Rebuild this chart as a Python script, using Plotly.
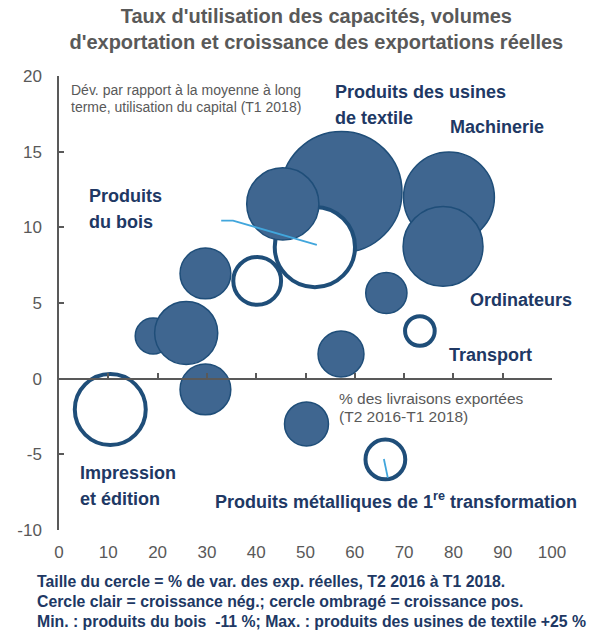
import plotly.graph_objects as go

# Part des livraisons exportées (%), écart d'utilisation des capacités (pts),
# croissance des exportations réelles (%, T2 2016 à T1 2018)
part_exportee = [57.3, 79.1, 77.9, 51.9, 45.4, 29.7, 40.2, 66.4,
                 73.2, 57.2, 19.1, 25.8, 29.7, 10.4, 50.2, 66.2]
ecart_utilisation = [12.34, 11.98, 8.74, 8.70, 11.55, 6.95, 6.46, 5.66,
                     3.15, 1.63, 2.82, 3.02, -0.71, -2.04, -2.99, -5.34]
croissance = [25, 14.1, 10.9, -11, 8.9, 4.4, -3.9, 2.9,
              -1.5, 3.6, 2.2, 6.8, 4.4, -8.6, 3.3, -2.7]

# Traits de rappel
rappel_bois_x = [32.9, 35.3, 52.3]
rappel_bois_y = [10.44, 10.44, 8.84]
rappel_metal_x = [65.9, 66.7]
rappel_metal_y = [-5.31, -6.56]

x_ticks = list(range(0, 101, 10))
y_ticks = list(range(-10, 21, 5))
y_ticktext = [str(v) for v in y_ticks]

BLEU = "#1f4e79"
OMBRE = "#3f6690"
MARINE = "#203864"
GRIS = "#595959"
CIEL = "#41a6dc"
FONT = "Liberation Sans, Arial, sans-serif"

D_MAX = 121  # diamètre (px) du cercle le plus grand
sizeref = 2 * max(abs(c) for c in croissance) / D_MAX ** 2

fig = go.Figure()

fig.add_trace(go.Scatter(
    x=part_exportee, y=ecart_utilisation, mode="markers",
    marker=dict(
        size=[abs(c) for c in croissance],
        sizemode="area", sizeref=sizeref,
        color=[OMBRE if c > 0 else "white" for c in croissance],
        opacity=1,
        line=dict(color=BLEU, width=[1.5 if c > 0 else 4 for c in croissance]),
    ),
    showlegend=False, hoverinfo="skip",
))

for lx, ly in [(rappel_bois_x, rappel_bois_y), (rappel_metal_x, rappel_metal_y)]:
    fig.add_trace(go.Scatter(
        x=lx, y=ly, mode="lines", xaxis="x2",
        line=dict(color=CIEL, width=1.8),
        showlegend=False, hoverinfo="skip",
    ))

# ── Étiquettes ───────────────────────────────────────────────
etiquettes = [
    ("Produits des usines", 55.6, 18.94),
    ("de textile", 55.6, 17.23),
    ("Machinerie", 78.9, 16.63),
    ("Produits", 5.7, 12.08),
    ("du bois", 5.7, 10.36),
    ("Ordinateurs", 83.0, 5.20),
    ("Transport", 78.7, 1.57),
    ("Impression", 3.85, -6.23),
    ("et édition", 3.85, -7.95),
    ("Produits métalliques de 1<sup>re</sup> transformation", 31.2, -8.08),
]
for txt, ax, ay in etiquettes:
    fig.add_annotation(x=ax, y=ay, text=f"<b>{txt}</b>", showarrow=False,
                       xanchor="left", yanchor="middle",
                       font=dict(family=FONT, size=18, color=MARINE))

notes = [
    ("Dév. par rapport à la moyenne à long", 2.0, 19.08, 14),
    ("terme, utilisation du capital (T1 2018)", 2.0, 17.96, 14),
    ("% des livraisons exportées", 56.4, -1.28, 15.5),
    ("(T2 2016-T1 2018)", 56.4, -2.53, 15.5),
]
for txt, ax, ay, sz in notes:
    fig.add_annotation(x=ax, y=ay, text=txt, showarrow=False,
                       xanchor="left", yanchor="middle",
                       font=dict(family=FONT, size=sz, color=GRIS))

pied = [
    "Taille du cercle = % de var. des exp. réelles, T2 2016 à T1 2018.",
    "Cercle clair = croissance nég.; cercle ombragé = croissance pos.",
    "Min. : produits du bois  -11 %; Max. : produits des usines de textile +25 %",
]
for i, txt in enumerate(pied):
    fig.add_annotation(xref="paper", yref="paper", x=-0.0487, y=-0.1145 - 0.044 * i,
                       text=f"<b>{txt}</b>", showarrow=False,
                       xanchor="left", yanchor="middle",
                       font=dict(family=FONT, size=15.8, color=MARINE))

fig.update_layout(
    width=597, height=631,
    margin=dict(l=59, r=45, t=76, b=101),
    paper_bgcolor="white", plot_bgcolor="white",
    font=dict(family=FONT, color=GRIS),
    title=dict(
        text="<b>Taux d'utilisation des capacités, volumes<br>"
             "d'exportation et croissance des exportations réelles</b>",
        x=0.522, xanchor="center", xref="paper",
        y=1 - 23 / 631, yanchor="middle", yref="container",
        font=dict(family=FONT, size=20, color=GRIS),
    ),
    xaxis=dict(
        range=[0, 100], tickvals=x_ticks, showline=False, ticks="",
        showgrid=False, zeroline=False, ticklabelstandoff=10,
        tickfont=dict(size=17, color=GRIS),
    ),
    xaxis2=dict(
        range=[0, 100], tickvals=x_ticks, overlaying="x", anchor="free",
        position=1 / 3, showline=True, linecolor=GRIS, linewidth=1.5,
        ticks="inside", ticklen=5, tickcolor=GRIS, tickwidth=1.5,
        showticklabels=False, showgrid=False, zeroline=False,
    ),
    yaxis=dict(
        range=[-10, 20], tickvals=y_ticks, ticktext=y_ticktext,
        showline=True, linecolor=GRIS,
        linewidth=1.5, ticks="inside", ticklen=5, tickcolor=GRIS, tickwidth=1.5,
        showgrid=False, zeroline=False, ticklabelstandoff=12,
        tickfont=dict(size=17, color=GRIS),
    ),
)

fig.write_html("out.html", config={"displayModeBar": False},
               post_script="document.body.style.margin = '0';")
